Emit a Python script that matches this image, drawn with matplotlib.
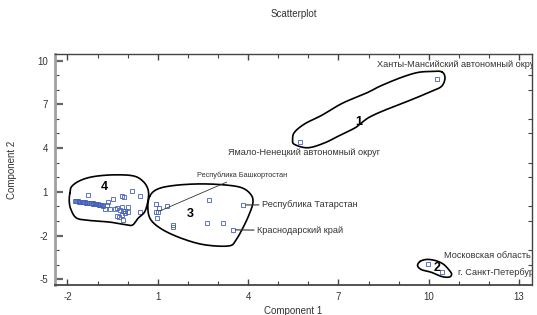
import numpy as np
import matplotlib
matplotlib.use("Agg")
import matplotlib.pyplot as plt
from matplotlib.ticker import MultipleLocator, FixedLocator

plt.rcParams['font.family'] = ['Liberation Sans', 'DejaVu Sans']
plt.rcParams['axes.unicode_minus'] = False

# ---- data (Component 1, Component 2) ----
# cluster 1
c1_x = [10.26, 5.74]
c1_y = [8.75, 4.42]
# cluster 2
c2_x = [9.99, 10.44]
c2_y = [-3.96, -4.49]
# cluster 3
c3_x = [0.93, 1.04, 1.30, 0.93, 1.02, 0.96, 1.51, 1.51, 2.70, 2.62, 3.18, 3.84, 3.49]
c3_y = [0.15, -0.08, 0.05, -0.40, -0.36, -0.77, -1.27, -1.40, 0.45, -1.15, -1.15, 0.10, -1.61]
# cluster 4 (dense band)
c4a_x = [-1.75, -1.71, -1.68, -1.64, -1.60, -1.57, -1.53, -1.49, -1.45, -1.42, -1.38, -1.34,
         -1.30, -1.27, -1.23, -1.19, -1.15, -1.12, -1.08, -1.04, -1.00, -0.96, -0.92, -0.88, -0.84, -0.81]
c4a_y = [0.38, 0.37, 0.36, 0.34, 0.33, 0.32, 0.31, 0.29, 0.28, 0.27, 0.26, 0.25,
         0.23, 0.22, 0.21, 0.20, 0.18, 0.17, 0.16, 0.15, 0.13, 0.12, 0.10, 0.08, 0.07, 0.05]
# cluster 4 (scattered)
c4b_x = [-1.31, -0.48, -0.20, -0.12, 0.13, 0.41, -0.64, -0.70, -0.75, -0.59, -0.42, -0.35, -0.20,
         -0.26, -0.17, -0.09, 0.02, 0.02, -0.09, -0.20, -0.35, -0.29, -0.15, 0.41, -0.92, -1.14]
c4b_y = [0.79, 0.49, 0.72, 0.67, 1.08, 0.72, 0.33, 0.10, -0.17, -0.17, -0.17, -0.12, -0.01,
         -0.24, -0.29, -0.29, -0.01, -0.36, -0.47, -0.58, -0.65, -0.70, -0.92, -0.36, 0.10, 0.22]

# ---- hand-drawn cluster outlines (annotation shapes) ----
ol1_x = [10.43, 10.54, 10.43, 10.09, 9.41, 8.83, 8.04, 7.58, 7.13, 6.56, 5.99, 5.54, 5.48, 5.54,
         5.88, 6.45, 7.13, 7.93, 8.38, 9.06, 9.63, 10.09]
ol1_y = [9.23, 8.82, 8.24, 7.89, 7.30, 6.84, 6.13, 5.42, 4.96, 4.37, 4.02, 4.25, 4.60, 5.08,
         5.66, 6.25, 7.07, 7.77, 8.24, 8.82, 9.18, 9.25]
ol2_x = [9.71, 9.93, 10.21, 10.47, 10.65, 10.76, 10.68, 10.43, 10.10, 9.77, 9.63]
ol2_y = [-3.78, -3.64, -3.71, -3.94, -4.30, -4.64, -4.85, -4.81, -4.53, -4.35, -4.08]
ol3_x = [0.74, 1.01, 1.57, 2.40, 3.23, 3.80, 4.10, 4.16, 4.03, 3.83, 3.60, 3.37, 2.57, 1.84, 1.17, 0.77, 0.67]
ol3_y = [0.72, 1.20, 1.44, 1.54, 1.47, 1.27, 0.79, 0.24, -0.58, -1.47, -2.29, -2.71, -2.64, -2.23, -1.61, -0.92, -0.10]
ol4_x = [-1.92, -1.86, -1.58, -1.14, -0.48, 0.19, 0.52, 0.68, 0.68, 0.57, 0.35, 0.17, -0.03, -0.59,
         -1.25, -1.69, -1.88, -1.94]
ol4_y = [0.90, 1.36, 1.77, 2.04, 2.16, 2.09, 1.70, 1.13, 0.45, -0.36, -0.81, -1.27, -1.27, -1.08,
         -0.97, -0.81, -0.24, 0.33]

x_ticks = [-2, 1, 4, 7, 10, 13]
y_ticks = [-5, -2, 1, 4, 7, 10]


def smooth_closed(xs, ys, n=16):
    P = np.column_stack([xs, ys])
    N = len(P)
    segs = []
    t = np.linspace(0, 1, n, endpoint=False)[:, None]
    for i in range(N):
        p0, p1, p2, p3 = P[i - 1], P[i], P[(i + 1) % N], P[(i + 2) % N]
        segs.append(0.5 * ((2 * p1) + (-p0 + p2) * t + (2 * p0 - 5 * p1 + 4 * p2 - p3) * t ** 2
                           + (-p0 + 3 * p1 - 3 * p2 + p3) * t ** 3))
    out = np.vstack(segs + [segs[0][:1]])
    return out[:, 0], out[:, 1]


fig = plt.figure(figsize=(5.37, 3.15), dpi=100)
ax = fig.add_axes([54.8 / 537, 1 - 285.4 / 315, (532 - 54.8) / 537, (285.4 - 53.7) / 315])
ax.set_xlim(-2.42, 13.43)
ax.set_ylim(-5.42, 10.47)

mk = dict(linestyle='none', marker='s', markersize=2.5, markerfacecolor='none',
          markeredgecolor='#4560b8', markeredgewidth=0.6)
for xs, ys in [(c1_x, c1_y), (c2_x, c2_y), (c3_x, c3_y), (c4a_x, c4a_y), (c4b_x, c4b_y)]:
    ax.plot(xs, ys, **mk)

for ox, oy in [(ol1_x, ol1_y), (ol2_x, ol2_y), (ol3_x, ol3_y), (ol4_x, ol4_y)]:
    sx, sy = smooth_closed(ox, oy)
    ax.plot(sx, sy, color='black', lw=1.2, solid_capstyle='round')

# cluster numbers
for lab, (lx, ly) in zip(['1', '2', '3', '4'], [(7.67, 5.77), (10.27, -4.23), (2.07, -0.52), (-0.78, 1.36)]):
    ax.text(lx, ly, lab, fontsize=9, fontweight='bold', ha='center', va='center', color='black')

tc = '#333333'
fs = 6.6
ax.text(8.27, 9.76, 'Ханты-Мансийский автономный округ', fontsize=fs, color=tc,
        ha='left', va='center', clip_on=True)
ax.text(5.86, 3.71, 'Ямало-Ненецкий автономный округ', fontsize=fs, color=tc,
        ha='center', va='center')
ax.text(10.51, -3.36, 'Московская область', fontsize=fs, color=tc, ha='left', va='center', clip_on=True)
ax.text(10.97, -4.55, 'г. Санкт-Петербург', fontsize=fs, color=tc, ha='left', va='center', clip_on=True)
ax.annotate('Республика Башкортостан', xy=(c3_x[4], c3_y[4]), xytext=(2.29, 2.11),
            fontsize=5.3, color=tc, ha='left', va='center',
            arrowprops=dict(arrowstyle='-', color='#333333', lw=0.6, shrinkA=0, shrinkB=1))
ax.annotate('Республика Татарстан', xy=(c3_x[11], c3_y[11]), xytext=(4.45, 0.10),
            fontsize=fs, color=tc, ha='left', va='center',
            arrowprops=dict(arrowstyle='-', color='#333333', lw=0.8, shrinkA=0, shrinkB=2))
ax.annotate('Краснодарский край', xy=(c3_x[12], c3_y[12]), xytext=(4.29, -1.66),
            fontsize=fs, color=tc, ha='left', va='center',
            arrowprops=dict(arrowstyle='-', color='#333333', lw=0.8, shrinkA=0, shrinkB=2))

# axes styling
ax.xaxis.set_major_locator(FixedLocator(x_ticks))
ax.yaxis.set_major_locator(FixedLocator(y_ticks))
ax.xaxis.set_minor_locator(MultipleLocator(1))
ax.yaxis.set_minor_locator(MultipleLocator(1))
ax.set_xticklabels([str(v) for v in x_ticks])
ax.set_yticklabels([str(v) for v in y_ticks])

for s in ['top', 'right']:
    ax.spines[s].set_color('#444444')
    ax.spines[s].set_linewidth(1.0)
ax.spines['bottom'].set_color('#444444')
ax.spines['bottom'].set_linewidth(1.3)
ax.spines['left'].set_color('#a0a0a0')
ax.spines['left'].set_linewidth(2.0)

ax.tick_params(axis='x', which='major', direction='in', length=4, width=1, color='#444444',
               top=True, labelsize=7, labelcolor='#333333', pad=5)
ax.tick_params(axis='x', which='minor', direction='in', length=3, width=0.8, color='#444444', top=True)
ax.tick_params(axis='y', which='major', direction='in', length=6, width=1.6, color='#666666',
               right=False, labelsize=7, labelcolor='#333333', pad=5)
ax.tick_params(axis='y', which='minor', direction='in', length=3, width=0.8, color='#444444', right=True)

fig.text(293.5 / 537, 1 - 14.4 / 315, 'Scatterplot', fontsize=7, color='#333333', ha='center', va='center')
fig.text(293.5 / 537, 1 - 311 / 315, 'Component 1', fontsize=7, color='#333333', ha='center', va='center')
fig.text(12 / 537, 1 - 169.5 / 315, 'Component 2', fontsize=7, color='#333333', ha='center', va='center',
         rotation=90)

fig.savefig('out.png', dpi=100)
